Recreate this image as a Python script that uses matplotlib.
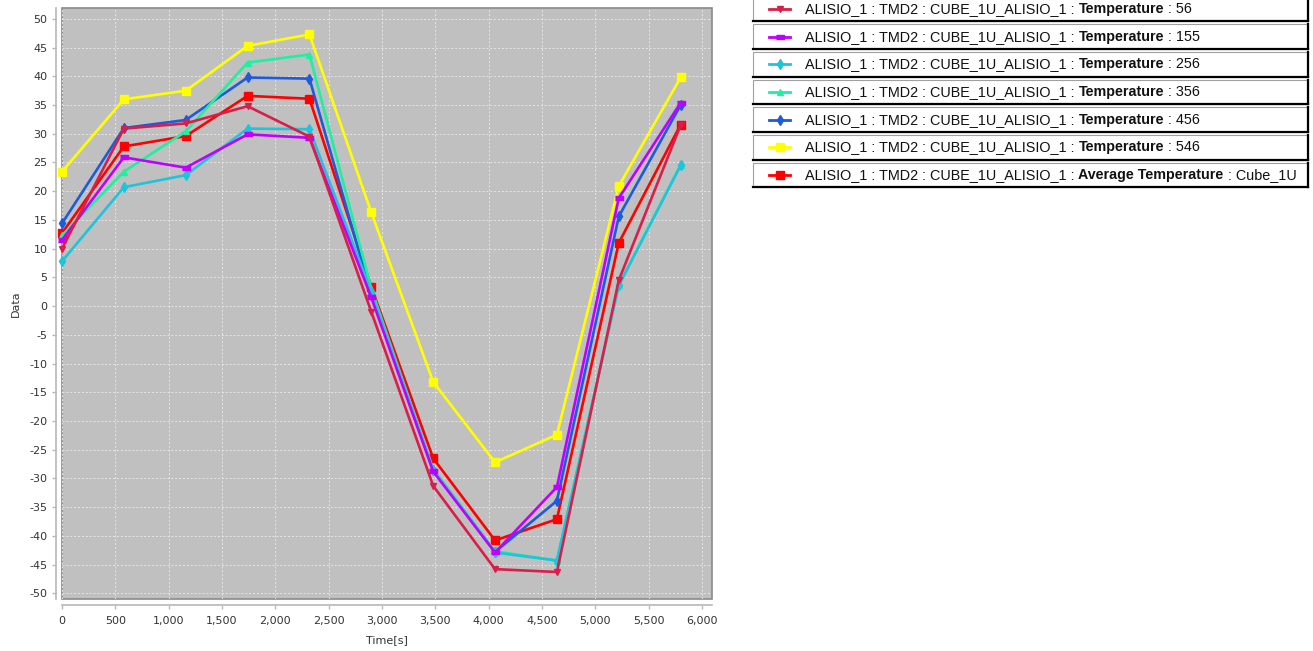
import matplotlib
matplotlib.use('Agg')
import matplotlib.pyplot as plt
from matplotlib.patches import Rectangle
from matplotlib.lines import Line2D
from matplotlib.ticker import FuncFormatter, MultipleLocator

# time axis, seconds
time_s = [0, 580, 1160, 1740, 2320, 2900, 3480, 4060, 4640, 5220, 5800]

temp_56 = [10.0, 30.9, 31.8, 34.8, 29.5, -1.0, -31.3, -45.8, -46.3, 4.5, 31.5]
temp_155 = [11.5, 25.9, 24.1, 29.9, 29.3, 1.5, -28.8, -42.9, -31.5, 18.8, 35.4]
temp_256 = [7.8, 20.7, 22.8, 30.9, 30.8, 2.5, -28.6, -42.9, -44.3, 3.6, 24.5]
temp_356 = [12.3, 23.4, 30.4, 42.4, 43.8, 3.0, -28.4, -42.7, -44.3, 3.6, 24.6]
temp_456 = [14.4, 31.0, 32.4, 39.8, 39.6, 2.0, -28.5, -42.8, -33.9, 15.6, 35.0]
temp_546 = [23.4, 36.0, 37.5, 45.3, 47.3, 16.3, -13.2, -27.2, -22.4, 20.9, 39.8]
temp_avg = [12.7, 27.8, 29.6, 36.6, 36.1, 3.3, -26.5, -40.8, -37.1, 11.0, 31.6]

series = [temp_56, temp_155, temp_256, temp_356, temp_456, temp_546, temp_avg]
colors = ['#d81e4a', '#c000ff', '#1ec4dc', '#1ef0a0', '#1e5adc', '#ffff00', '#ff0000']
hrect = [(-1.0, -0.45), (1.0, -0.45), (1.0, 0.45), (-1.0, 0.45)]
markers = ['v', hrect, 'd', '^', 'd', 's', 's']
msizes = [5, 6, 5, 5, 5, 6, 6]
prefix = 'ALISIO_1 : TMD2 : CUBE_1U_ALISIO_1 : '
bold_parts = ['Temperature'] * 6 + ['Average Temperature']
suffixes = [' : 56', ' : 155', ' : 256', ' : 356', ' : 456', ' : 546', ' : Cube_1U']

W, H = 1313, 651
fig = plt.figure(figsize=(W / 100, H / 100), dpi=100)
ax = fig.add_axes([62 / W, 1 - 599 / H, 650 / W, 591 / H])
ax.set_facecolor('#c0c0c0')
ax.patch.set_edgecolor('#8a8a8a')
ax.patch.set_linewidth(1.2)

for i, (vals, c) in enumerate(zip(series, colors)):
    ax.plot(time_s, vals, color=c, lw=1.9, marker=markers[i], ms=msizes[i],
            mec=c, mfc=c, zorder=10 - i, clip_on=False)

ax.set_xlim(0, 6094)
ax.set_ylim(-51.0, 51.9)
ax.xaxis.set_major_locator(MultipleLocator(500))
ax.yaxis.set_major_locator(MultipleLocator(5))
ax.xaxis.set_major_formatter(FuncFormatter(lambda v, p: f'{int(v):,}'))
ax.yaxis.set_major_formatter(FuncFormatter(lambda v, p: f'{int(v)}'))
ax.grid(True, color='#e6e6e6', ls=(0, (2, 2)), lw=0.7)
ax.set_axisbelow(True)

for s in ['top', 'right']:
    ax.spines[s].set_visible(False)
for s in ['left', 'bottom']:
    ax.spines[s].set_position(('outward', 4))
    ax.spines[s].set_color('#b8b8b8')
    ax.spines[s].set_linewidth(1.2)
ax.tick_params(colors='#b8b8b8', labelcolor='#333333', labelsize=8, length=3, width=1)
ax.tick_params(axis='x', pad=5)
ax.set_xlabel('Time[s]', fontsize=8, color='#333333', labelpad=7)
ax.set_ylabel('Data', fontsize=8, color='#333333', labelpad=6)

# legend: one framed box per series
renderer = fig.canvas.get_renderer()
box_left, box_right = 753, 1308
for i in range(len(series)):
    top = -3.2 + 27.67 * i
    bottom = top + 24.5
    fig.patches.append(Rectangle((box_left / W, 1 - bottom / H), (box_right - box_left) / W,
                                 (bottom - top) / H, transform=fig.transFigure,
                                 facecolor='white', edgecolor='#a0a0a0', lw=0.8))
    fig.add_artist(Line2D([box_left / W, box_right / W], [1 - bottom / H] * 2,
                          transform=fig.transFigure, color='black', lw=1.6))
    fig.add_artist(Line2D([box_right / W] * 2, [1 - top / H, 1 - bottom / H],
                          transform=fig.transFigure, color='black', lw=1.6))
    yc = 1 - (top + bottom) / 2 / H
    fig.add_artist(Line2D([769 / W, 790 / W], [yc, yc], transform=fig.transFigure,
                          color=colors[i], lw=2.0))
    fig.add_artist(Line2D([779.5 / W], [yc], transform=fig.transFigure,
                          color=colors[i], lw=0, marker=markers[i], ms=msizes[i]))
    x = 805 / W
    pieces = [(prefix, 'normal', 10.4), (bold_parts[i], 'bold', 10.3), (suffixes[i], 'normal', 10.4)]
    for txt, weight, size in pieces:
        t = fig.text(x, yc, txt, fontsize=size, fontweight=weight, family='Liberation Sans',
                     va='center', ha='left', color='#111111')
        bb = t.get_window_extent(renderer)
        x = bb.x1 / W

fig.savefig('out.png', dpi=100)
